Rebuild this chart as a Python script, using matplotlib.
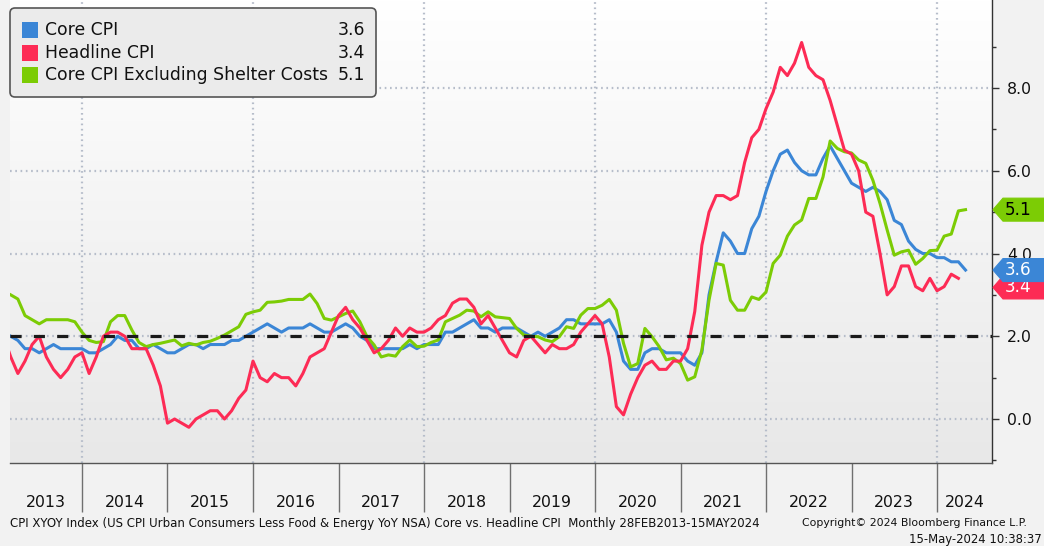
import numpy as np
import matplotlib
matplotlib.use('Agg')
import matplotlib.pyplot as plt
from matplotlib.patches import FancyBboxPatch, Polygon, Rectangle
from matplotlib.colors import LinearSegmentedColormap
import matplotlib.transforms as mtransforms

plt.rcParams['font.family'] = ['DejaVu Sans']
plt.rcParams['lines.scale_dashes'] = False

# ---------------- data (monthly, Feb 2013 - Apr 2024) ----------------
start_year, start_month = 2013, 2

core_cpi = [
    2.0, 1.9, 1.7, 1.7, 1.6, 1.7, 1.8, 1.7, 1.7, 1.7, 1.7,
    1.6, 1.6, 1.7, 1.8, 2.0, 1.9, 1.9, 1.7, 1.7, 1.8, 1.7, 1.6,
    1.6, 1.7, 1.8, 1.8, 1.7, 1.8, 1.8, 1.8, 1.9, 1.9, 2.0, 2.1,
    2.2, 2.3, 2.2, 2.1, 2.2, 2.2, 2.2, 2.3, 2.2, 2.1, 2.1, 2.2,
    2.3, 2.2, 2.0, 1.9, 1.7, 1.7, 1.7, 1.7, 1.7, 1.8, 1.7, 1.8,
    1.8, 1.8, 2.1, 2.1, 2.2, 2.3, 2.4, 2.2, 2.2, 2.1, 2.2, 2.2,
    2.2, 2.1, 2.0, 2.1, 2.0, 2.1, 2.2, 2.4, 2.4, 2.3, 2.3, 2.3,
    2.3, 2.4, 2.1, 1.4, 1.2, 1.2, 1.6, 1.7, 1.7, 1.6, 1.6, 1.6,
    1.4, 1.3, 1.6, 3.0, 3.8, 4.5, 4.3, 4.0, 4.0, 4.6, 4.9, 5.5,
    6.0, 6.4, 6.5, 6.2, 6.0, 5.9, 5.9, 6.3, 6.6, 6.3, 6.0, 5.7,
    5.6, 5.5, 5.6, 5.5, 5.3, 4.8, 4.7, 4.3, 4.1, 4.0, 4.0, 3.9,
    3.9, 3.8, 3.8, 3.6,
]

headline_cpi = [
    2.0, 1.5, 1.1, 1.4, 1.8, 2.0, 1.5, 1.2, 1.0, 1.2, 1.5,
    1.6, 1.1, 1.5, 2.0, 2.1, 2.1, 2.0, 1.7, 1.7, 1.7, 1.3, 0.8,
    -0.1, 0.0, -0.1, -0.2, 0.0, 0.1, 0.2, 0.2, 0.0, 0.2, 0.5, 0.7,
    1.4, 1.0, 0.9, 1.1, 1.0, 1.0, 0.8, 1.1, 1.5, 1.6, 1.7, 2.1,
    2.5, 2.7, 2.4, 2.2, 1.9, 1.6, 1.7, 1.9, 2.2, 2.0, 2.2, 2.1,
    2.1, 2.2, 2.4, 2.5, 2.8, 2.9, 2.9, 2.7, 2.3, 2.5, 2.2, 1.9,
    1.6, 1.5, 1.9, 2.0, 1.8, 1.6, 1.8, 1.7, 1.7, 1.8, 2.1, 2.3,
    2.5, 2.3, 1.5, 0.3, 0.1, 0.6, 1.0, 1.3, 1.4, 1.2, 1.2, 1.4,
    1.4, 1.7, 2.6, 4.2, 5.0, 5.4, 5.4, 5.3, 5.4, 6.2, 6.8, 7.0,
    7.5, 7.9, 8.5, 8.3, 8.6, 9.1, 8.5, 8.3, 8.2, 7.7, 7.1, 6.5,
    6.4, 6.0, 5.0, 4.9, 4.0, 3.0, 3.2, 3.7, 3.7, 3.2, 3.1, 3.4,
    3.1, 3.2, 3.5, 3.4,
]

core_ex_shelter = [
    3.0, 2.9, 2.5, 2.4, 2.3, 2.4, 2.4, 2.4, 2.4, 2.35, 2.1,
    1.9, 1.85, 1.87, 2.35, 2.5, 2.5, 2.15, 1.85, 1.75, 1.8, 1.83, 1.87,
    1.91, 1.77, 1.83, 1.79, 1.85, 1.88, 1.95, 2.03, 2.13, 2.23, 2.53, 2.59,
    2.63, 2.82, 2.83, 2.85, 2.89, 2.89, 2.89, 3.02, 2.79, 2.43, 2.39, 2.47,
    2.55, 2.61, 2.35, 1.99, 1.79, 1.5, 1.55, 1.52, 1.75, 1.91, 1.75, 1.76,
    1.85, 1.91, 2.35, 2.43, 2.51, 2.63, 2.61, 2.47, 2.59, 2.47, 2.45, 2.43,
    2.19, 2.03, 2.0, 1.99, 1.91, 1.87, 1.99, 2.23, 2.19, 2.51, 2.67, 2.67,
    2.75, 2.89, 2.63, 1.83, 1.26, 1.34, 2.19, 1.99, 1.75, 1.43, 1.47, 1.34,
    0.94, 1.02, 1.67, 2.87, 3.76, 3.72, 2.87, 2.63, 2.63, 2.95, 2.89, 3.07,
    3.76, 3.96, 4.42, 4.69, 4.81, 5.33, 5.33, 5.85, 6.72, 6.54, 6.46, 6.43,
    6.26, 6.18, 5.77, 5.21, 4.57, 3.96, 4.04, 4.08, 3.74, 3.88, 4.07, 4.08,
    4.42, 4.47, 5.03, 5.06,
]

series_names = ['Core CPI', 'Headline CPI', 'Core CPI Excluding Shelter Costs']
legend_values = ['3.6', '3.4', '5.1']
year_labels = [str(y) for y in range(2013, 2025)]
ytick_values = [0.0, 2.0, 4.0, 6.0, 8.0]
reference_level = 2.0

footer_left = ("CPI XYOY Index (US CPI Urban Consumers Less Food & Energy YoY NSA) "
               "Core vs. Headline CPI  Monthly 28FEB2013-15MAY2024")
footer_right1 = "Copyright\u00a9 2024 Bloomberg Finance L.P."
footer_right2 = "15-May-2024 10:38:37"

# ---------------- styling ----------------
BLUE = '#3b86d6'
RED = '#fd2b55'
GREEN = '#7ccc05'
W, H, DPI = 1044, 546, 100

fig = plt.figure(figsize=(W / DPI, H / DPI), dpi=DPI, facecolor='#f2f2f2')
# pixel transform with top-left origin
pix = mtransforms.Affine2D().scale(1 / DPI, -1 / DPI).translate(0, H / DPI) + fig.dpi_scale_trans

ax_left, ax_right, ax_top, ax_bottom = 10, 992, 0, 463
ax = fig.add_axes([ax_left / W, 1 - ax_bottom / H, (ax_right - ax_left) / W, (ax_bottom - ax_top) / H])

# background gradient
grad = np.linspace(0, 1, 256).reshape(-1, 1)
ax.imshow(grad, cmap=LinearSegmentedColormap.from_list('bg', ['#ffffff', '#e8e8e8']),
          extent=[0, 1, 0, 1], transform=ax.transAxes, aspect='auto', zorder=0)

n = len(core_cpi)
month_idx = np.arange(n) + (start_month - 1)
t_head = start_year + month_idx / 12.0
t_core = t_head + 1 / 12.0

x0, x1 = 2013.158, 2024.643
y0, y1 = -1.063, 10.127

# grid
grid_kw = dict(color='#b6bdca', lw=1.6, linestyle=(0, (1.2, 2.6)), zorder=1)
for v in ytick_values:
    ax.axhline(v, **grid_kw)
for yr in range(2014, 2025, 2):
    ax.axvline(yr, **grid_kw)

ax.plot(t_core, core_cpi, color=BLUE, lw=2.2, zorder=3, solid_joinstyle='round')
ax.plot(t_core, core_ex_shelter, color=GREEN, lw=2.2, zorder=4, solid_joinstyle='round')
ax.plot(t_head, headline_cpi, color=RED, lw=2.2, zorder=5, solid_joinstyle='round')
ax.axhline(reference_level, color='#1a1a1a', lw=2.3, linestyle=(0, (8, 8.8)), zorder=6)

ax.set_xlim(x0, x1)
ax.set_ylim(y0, y1)

# x axis: separators at year boundaries, labels centred in visible part of each year
bounds = [y for y in range(2014, 2025)]
ax.set_xticks(bounds)
ax.set_xticklabels([])
centers = []
for lab in year_labels:
    yr = int(lab)
    a, b = max(yr, x0), min(yr + 1, x1)
    centers.append((a + b) / 2)
ax.set_xticks(centers, minor=True)
ax.set_xticklabels(year_labels, minor=True, fontsize=11.3, color='#111111')
ax.tick_params(axis='x', which='major', length=35, width=1, color='#707070', direction='out')
ax.tick_params(axis='x', which='minor', length=0, pad=23)

# y axis on the right
ax.yaxis.tick_right()
ax.set_yticks(ytick_values)
ax.set_yticklabels([f'{v:.1f}' for v in ytick_values], fontsize=11.3, color='#111111')
ax.set_yticks([-1, 1, 3, 5, 7, 9], minor=True)
ax.tick_params(axis='y', which='major', length=5, width=1, color='#333333', pad=6)
ax.tick_params(axis='y', which='minor', length=3, width=1, color='#333333')

for s in ['left', 'top']:
    ax.spines[s].set_visible(False)
ax.spines['right'].set_color('#333333')
ax.spines['bottom'].set_color('#555555')
ax.spines['right'].set_linewidth(1.0)
ax.spines['bottom'].set_linewidth(1.0)

# value tags on right axis (red sits just beneath the blue one, partly covered)
tag_tr = mtransforms.blended_transform_factory(pix, ax.transData)
half_h = 11.5 / 41.375
red_shift = -0.22  # headline tag pushed down under the core tag
tags = [
    (headline_cpi[-1] + red_shift, RED, 'white', legend_values[1]),
    (core_cpi[-1], BLUE, 'white', legend_values[0]),
    (core_ex_shelter[-1], GREEN, 'black', legend_values[2]),
]
for k, (val, col, tcol, lab) in enumerate(tags):
    z = 20 + 2 * k
    poly = Polygon([(993, val), (1003, val + half_h), (1046, val + half_h),
                    (1046, val - half_h), (1003, val - half_h)], closed=True,
                   transform=tag_tr, facecolor=col, edgecolor=col, lw=0.8,
                   clip_on=False, zorder=z)
    ax.add_artist(poly)
    ax.text(1005, val, lab, transform=tag_tr, fontsize=12.2, color=tcol,
            va='center', ha='left', clip_on=False, zorder=z + 1)

# legend box
box = FancyBboxPatch((10, 8), 366, 89, boxstyle='round,pad=0,rounding_size=5',
                     transform=pix, facecolor='#ebebeb', edgecolor='#555555', lw=1.2, zorder=30)
fig.add_artist(box)
for i, (name, col, val) in enumerate(zip(series_names, [BLUE, RED, GREEN], legend_values)):
    yc = 30 + i * 22.5
    fig.add_artist(Rectangle((22, yc - 8), 16, 16, transform=pix, facecolor=col,
                             edgecolor='none', zorder=31))
    fig.text(45, yc, name, transform=pix, fontsize=12.4, color='#111111',
             va='center', ha='left', zorder=32)
    fig.text(365, yc, val, transform=pix, fontsize=12.4, color='#111111',
             va='center', ha='right', zorder=32)

# footer
fig.text(10, 523, footer_left, transform=pix, fontsize=8.45, color='#111111', va='center', ha='left')
fig.text(1027, 523, footer_right1, transform=pix, fontsize=7.8, color='#111111', va='center', ha='right')
fig.text(1042, 540, footer_right2, transform=pix, fontsize=8.4, color='#111111', va='center', ha='right')

fig.savefig('out.png', dpi=DPI, facecolor=fig.get_facecolor())
